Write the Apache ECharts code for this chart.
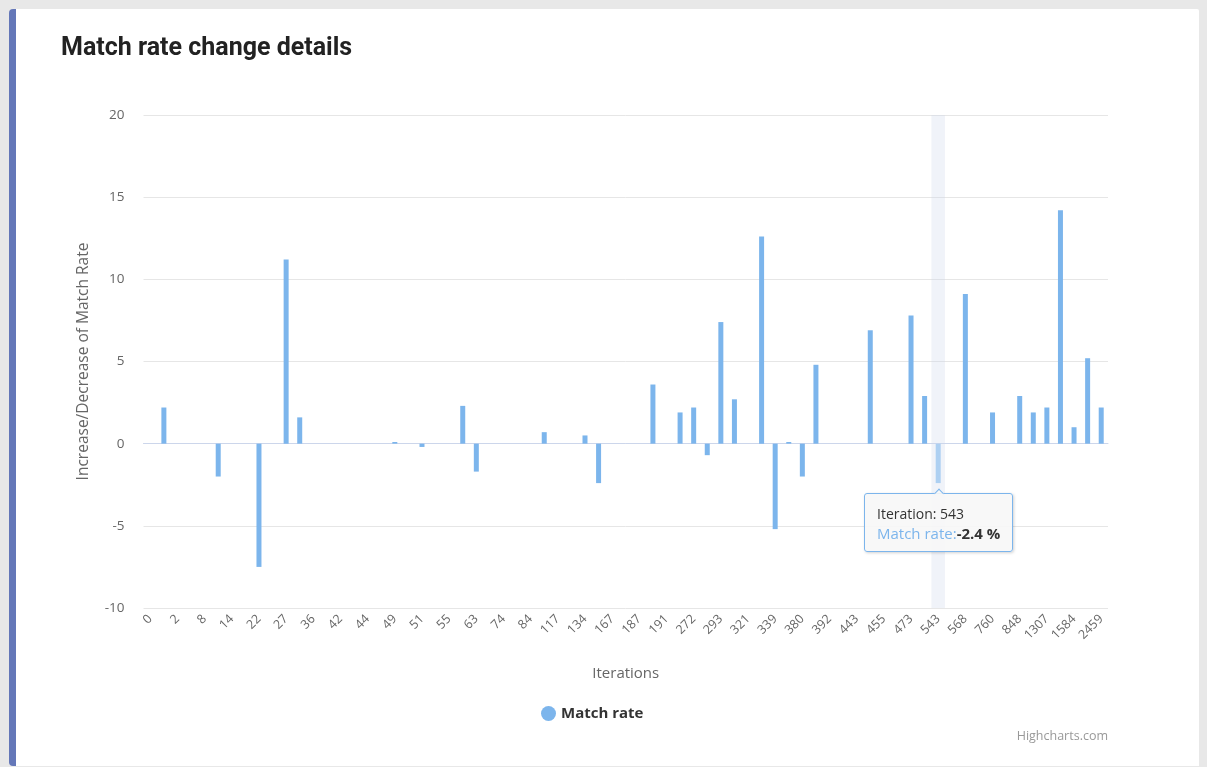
<!DOCTYPE html>
<html>
<head>
<meta charset="utf-8">
<title>Match rate change details</title>
<script src="https://cdn.jsdelivr.net/npm/echarts@6/dist/echarts.min.js"></script>
<style>
  html, body { margin: 0; padding: 0; background: #e8e8e8; width: 1207px; height: 767px; overflow: hidden; }
  #card {
    position: absolute; left: 9px; top: 9px; width: 1183px; height: 757px;
    background: #ffffff; border-left: 7px solid #6477b8; border-radius: 4px 2px 0 4px;
  }
  #chart { position: absolute; left: 0; top: 0; width: 1207px; height: 767px; }
</style>
</head>
<body>
<div id="card"></div>
<div id="chart"></div>
<script>
// Iteration numbers (x-axis categories)
const iterations = [
  '0', '1', '2', '5', '8', '11', '14', '18', '22', '25',
  '27', '31', '36', '40', '42', '43', '44', '47', '49', '50',
  '51', '53', '55', '58', '63', '68', '74', '79', '84', '96',
  '117', '125', '134', '150', '167', '178', '187', '189', '191', '230',
  '272', '285', '293', '306', '321', '330', '339', '360', '380', '386',
  '392', '418', '443', '450', '455', '464', '473', '510', '543', '555',
  '568', '650', '760', '800', '848', '1050', '1307', '1420', '1584', '1960',
  '2459'
];

// Change of match rate (%) at each iteration
const matchRate = [
  0, 2.2, 0, 0, 0, -2.0, 0, 0, -7.5, 0,
  11.2, 1.6, 0, 0, 0, 0, 0, 0, 0.1, 0,
  -0.2, 0, 0, 2.3, -1.7, 0, 0, 0, 0, 0.7,
  0, 0, 0.5, -2.4, 0, 0, 0, 3.6, 0, 1.9,
  2.2, -0.7, 7.4, 2.7, 0, 12.6, -5.2, 0.1, -2.0, 4.8,
  0, 0, 0, 6.9, 0, 0, 7.8, 2.9, -2.4, 0,
  9.1, 0, 1.9, 0, 2.9, 1.9, 2.2, 14.2, 1.0, 5.2,
  2.2
];

// Y-axis scale
const yMin = -10;
const yMax = 20;
const yStep = 5;

// Iteration whose tooltip is shown
const focusIteration = '543';

const FONT = '"Open Sans", "DejaVu Sans", sans-serif';
const chart = echarts.init(document.getElementById('chart'), null, { renderer: 'canvas' });
const focusIndex = iterations.indexOf(focusIteration);

chart.setOption({
  animation: false,
  textStyle: { fontFamily: FONT },
  title: {
    text: 'Match rate change details',
    left: 56,
    top: 31,
    textStyle: { fontFamily: 'Roboto, sans-serif', fontSize: 25, fontWeight: 'bold', color: '#222222' }
  },
  grid: { left: 143.5, right: 99, top: 115, bottom: 159, containLabel: false },
  legend: {
    left: 536,
    top: 701,
    icon: 'circle',
    itemWidth: 15,
    itemHeight: 15,
    itemGap: 20,
    textStyle: { fontFamily: FONT, fontSize: 15, fontWeight: 'bold', color: '#333333' },
    selectedMode: false
  },
  tooltip: {
    trigger: 'item',
    position: 'bottom',
    alwaysShowContent: true,
    transitionDuration: 0,
    backgroundColor: 'rgba(247,247,247,0.9)',
    borderColor: '#7cb5ec',
    borderWidth: 1,
    borderRadius: 3,
    padding: [10, 12, 8, 12],
    extraCssText: 'box-shadow: 1px 1px 3px rgba(0,0,0,0.18);',
    textStyle: { fontFamily: FONT, fontSize: 14, color: '#333333' },
    formatter: function (p) {
      return '<div style="line-height:19px;font-size:14px">Iteration: ' + p.name + '</div>' +
        '<div style="line-height:20px;font-size:15px"><span style="color:#7cb5ec">' + p.seriesName +
        ':</span><b>' + p.value + ' %</b></div>';
    }
  },
  xAxis: {
    type: 'category',
    data: iterations,
    name: 'Iterations',
    nameLocation: 'middle',
    nameGap: 58,
    nameTextStyle: { fontFamily: FONT, fontSize: 15, color: '#666666' },
    axisLine: { lineStyle: { color: '#ccd6eb' } },
    axisTick: { show: false },
    axisLabel: { interval: 1, rotate: 45, margin: 9, fontFamily: FONT, fontSize: 12.5, color: '#666666' },
    splitLine: { show: false },
    axisPointer: {
      show: true,
      type: 'shadow',
      value: focusIndex,
      status: 'show',
      triggerTooltip: false,
      label: { show: false },
      shadowStyle: { color: 'rgba(204,214,235,0.3)' }
    }
  },
  yAxis: {
    type: 'value',
    min: yMin,
    max: yMax,
    interval: yStep,
    name: 'Increase/Decrease of Match Rate',
    nameLocation: 'middle',
    nameGap: 52,
    nameTextStyle: { fontFamily: FONT, fontSize: 15.5, color: '#666666' },
    axisLine: { show: false },
    axisTick: { show: false },
    axisLabel: { margin: 19, fontFamily: FONT, fontSize: 13.5, color: '#666666' },
    splitLine: { lineStyle: { color: '#e6e6e6' } }
  },
  series: [{
    name: 'Match rate',
    type: 'bar',
    data: matchRate,
    barWidth: 5,
    itemStyle: { color: '#7cb5ec' },
    emphasis: { itemStyle: { color: '#9fcdf5' } }
  }],
  graphic: [{
    type: 'text',
    right: 99,
    top: 730,
    style: { text: 'Highcharts.com', fontFamily: FONT, fontSize: 12.5, fill: '#999999' }
  }]
});

chart.dispatchAction({ type: 'highlight', seriesIndex: 0, dataIndex: focusIndex });
chart.dispatchAction({ type: 'showTip', seriesIndex: 0, dataIndex: focusIndex });
</script>
</body>
</html>
